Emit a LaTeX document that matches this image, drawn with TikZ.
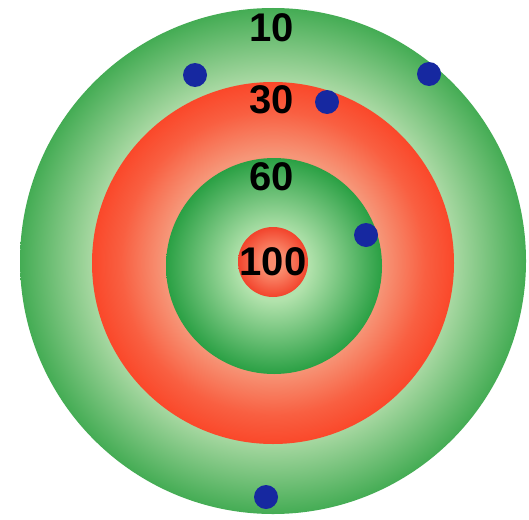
\documentclass[tikz,border=0pt]{standalone}
\usepackage{fontspec}
\setmainfont{Liberation Sans}
\definecolor{gDark}{RGB}{68,172,84}
\definecolor{gLight}{RGB}{168,216,162}
\definecolor{rDark}{RGB}{250,72,42}
\definecolor{rLight}{RGB}{246,150,120}
\definecolor{igDark}{RGB}{42,160,68}
\definecolor{igLight}{RGB}{178,226,172}
\definecolor{bEdge}{RGB}{242,68,44}
\definecolor{bCenter}{RGB}{250,140,110}
\definecolor{dotblue}{RGB}{22,40,160}
\pgfdeclareradialshading{outerring}{\pgfpoint{0bp}{0bp}}{color(0bp)=(gLight); color(17.9bp)=(gLight); color(25bp)=(gDark); color(50bp)=(gDark)}
\pgfdeclareradialshading{redring}{\pgfpoint{0bp}{0bp}}{color(0bp)=(rLight); color(15bp)=(rLight); color(21bp)=(rDark!70!rLight); color(25bp)=(rDark); color(50bp)=(rDark)}
\pgfdeclareradialshading{innergreen}{\pgfpoint{0bp}{0bp}}{color(0bp)=(igLight); color(8bp)=(igLight); color(25bp)=(igDark); color(50bp)=(igDark)}
\pgfdeclareradialshading{bullseye}{\pgfpoint{0bp}{0bp}}{color(0bp)=(bCenter); color(8bp)=(bCenter); color(25bp)=(bEdge); color(50bp)=(bEdge)}
\tikzset{
  ringdisk/.style={circle, inner sep=0pt, outer sep=0pt, draw=none},
  score/.style={inner sep=0pt, font=\fontsize{40}{48}\selectfont\bfseries, text=black},
  hit/.style={circle, inner sep=0pt, minimum size=24pt, fill=dotblue, draw=none}
}
\begin{document}
\begin{tikzpicture}[x=1pt,y=-1pt]
\useasboundingbox (0,0) rectangle (529,519);
\fill[white] (0,0) rectangle (529,519);
\node[ringdisk, minimum size=506pt, shading=outerring] (outer) at (273,261) {};
\node[ringdisk, minimum size=362pt, shading=redring] (red) at (273,263) {};
\node[ringdisk, minimum size=216pt, shading=innergreen] (inner) at (274,266) {};
\node[ringdisk, minimum size=70pt, shading=bullseye] (bull) at (273,262) {};
\node[score] (t10) at (272,28) {10};
\node[score] (t30) at (272,100) {30};
\node[score] (t60) at (272,177) {60};
\node[score] (t100) at (273,262) {100};
\node[hit] (d1) at (195,75) {};
\node[hit] (d2) at (429,74) {};
\node[hit] (d3) at (327,102) {};
\node[hit] (d4) at (366,235) {};
\node[hit] (d5) at (266,497) {};
\end{tikzpicture}
\end{document}
